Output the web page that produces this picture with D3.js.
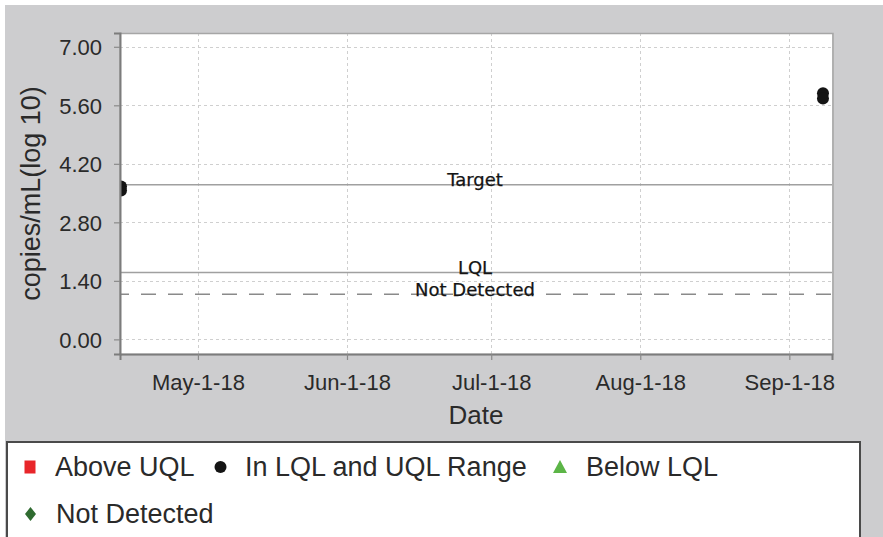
<!DOCTYPE html>
<html>
<head>
<meta charset="utf-8">
<script src="https://cdn.jsdelivr.net/npm/d3@7"></script>
<style>
  html, body { margin: 0; padding: 0; background: #ffffff; }
  svg { display: block; }
</style>
</head>
<body>
<svg id="chart" width="883" height="537"></svg>
<script>
// Sample results (log10 copies/mL) by collection date
const sampleDates  = ["2018-04-15", "2018-04-15", "2018-09-08", "2018-09-08"];
const sampleValues = [3.66, 3.56, 5.89, 5.76];

// Horizontal reference markers
const markerLabels = ["Target", "LQL", "Not Detected"];
const markerValues = [3.70, 1.60, 1.08];

// Axis ticks
const yTickValues = [0.00, 1.40, 2.80, 4.20, 5.60, 7.00];
const xDomain = ["2018-04-14T19:00", "2018-09-09T21:00"];
const yDomain = [-0.35, 7.33];

// Legend entries
const legendLabels = ["Above UQL", "In LQL and UQL Range", "Below LQL", "Not Detected"];

const svg = d3.select("#chart");
const W = 883, H = 537;
const plot = { left: 120, top: 33, right: 832, bottom: 354 };

const parseDay = d3.timeParse("%Y-%m-%d");
const parseStamp = d3.timeParse("%Y-%m-%dT%H:%M");

const x = d3.scaleTime()
  .domain(xDomain.map(parseStamp))
  .range([plot.left, plot.right]);
const y = d3.scaleLinear()
  .domain(yDomain)
  .range([plot.bottom, plot.top]);

// panel background
svg.append("rect").attr("x", 0).attr("y", 0).attr("width", W).attr("height", H).attr("fill", "#ffffff");
svg.append("rect").attr("x", 5).attr("y", 5).attr("width", W - 5).attr("height", H - 5).attr("fill", "#cdcdcf");

// plot area
svg.append("rect")
  .attr("x", plot.left).attr("y", plot.top)
  .attr("width", plot.right - plot.left).attr("height", plot.bottom - plot.top)
  .attr("fill", "#ffffff");

const monthTicks = x.ticks(d3.timeMonth.every(1));

// grid
const grid = svg.append("g").attr("stroke", "#cfcfcf").attr("stroke-width", 1).attr("stroke-dasharray", "3,3");
grid.selectAll("line.h").data(yTickValues).join("line")
  .attr("x1", plot.left).attr("x2", plot.right)
  .attr("y1", d => Math.round(y(d)) + 0.5).attr("y2", d => Math.round(y(d)) + 0.5);
grid.selectAll("line.v").data(monthTicks).join("line")
  .attr("y1", plot.top).attr("y2", plot.bottom)
  .attr("x1", d => Math.round(x(d)) + 0.5).attr("x2", d => Math.round(x(d)) + 0.5);

// reference markers
const markers = svg.append("g");
markerLabels.forEach((label, i) => {
  const yy = y(markerValues[i]);
  const dashed = label === "Not Detected";
  markers.append("line")
    .attr("x1", plot.left).attr("x2", plot.right)
    .attr("y1", yy).attr("y2", yy)
    .attr("stroke", dashed ? "#8a8a8a" : "#a0a0a0")
    .attr("stroke-width", 1.6)
    .attr("stroke-dasharray", dashed ? "15,12" : null)
    .attr("stroke-dashoffset", dashed ? 6 : null);
  markers.append("text")
    .attr("x", (plot.left + plot.right) / 2 - 1)
    .attr("y", yy + 1.5)
    .attr("text-anchor", "middle")
    .attr("font-family", "DejaVu Sans")
    .attr("font-size", 18)
    .attr("fill", "#141414")
    .attr("stroke", "#141414")
    .attr("stroke-width", 0.25)
    .text(label);
});

// data points (clipped to plot area)
svg.append("clipPath").attr("id", "plotClip")
  .append("rect").attr("x", plot.left).attr("y", plot.top)
  .attr("width", plot.right - plot.left).attr("height", plot.bottom - plot.top);
svg.append("g").attr("clip-path", "url(#plotClip)")
  .selectAll("circle").data(sampleDates.map((d, i) => ({ date: parseDay(d), value: sampleValues[i] })))
  .join("circle")
  .attr("cx", d => x(d.date))
  .attr("cy", d => y(d.value))
  .attr("r", 6)
  .attr("fill", "#141414");

// plot frame
svg.append("rect")
  .attr("x", plot.left).attr("y", plot.top + 0.5)
  .attr("width", plot.right - plot.left + 1).attr("height", plot.bottom - plot.top)
  .attr("fill", "none").attr("stroke", "#a6a6a6").attr("stroke-width", 1.5);

// axes
const yAxis = svg.append("g")
  .attr("transform", `translate(${plot.left},0)`)
  .call(d3.axisLeft(y).tickValues(yTickValues).tickFormat(d3.format(".2f")).tickSize(6).tickPadding(12));
const xAxis = svg.append("g")
  .attr("transform", `translate(0,${plot.bottom})`)
  .call(d3.axisBottom(x).tickValues(monthTicks).tickFormat(d3.timeFormat("%b-%-d-%y")).tickSize(6).tickPadding(10));

[yAxis, xAxis].forEach(g => {
  g.select(".domain").attr("stroke", "#7c7c7c").attr("stroke-width", 2);
  g.selectAll(".tick line").attr("stroke", "#8a8a8a").attr("stroke-width", 1.2);
  g.selectAll(".tick text")
    .attr("font-family", "Liberation Sans, Arial, sans-serif")
    .attr("font-size", 22)
    .attr("fill", "#2a2a2a");
});
yAxis.selectAll(".tick text").attr("dy", "0.36em");
xAxis.selectAll(".tick text").attr("dy", "0.9em");

// axis titles
svg.append("text")
  .attr("x", (plot.left + plot.right) / 2)
  .attr("y", 424)
  .attr("text-anchor", "middle")
  .attr("font-family", "Liberation Sans, Arial, sans-serif")
  .attr("font-size", 26)
  .attr("fill", "#2a2a2a")
  .text("Date");
svg.append("text")
  .attr("transform", `translate(40,${(plot.top + plot.bottom) / 2}) rotate(-90)`)
  .attr("text-anchor", "middle")
  .attr("font-family", "Liberation Sans, Arial, sans-serif")
  .attr("font-size", 27)
  .attr("fill", "#2a2a2a")
  .text("copies/mL(log 10)");

// legend
const legend = svg.append("g");
legend.append("rect")
  .attr("x", 7).attr("y", 442)
  .attr("width", 853).attr("height", 120)
  .attr("fill", "#ffffff").attr("stroke", "#4a4a4a").attr("stroke-width", 2);

const legendPos = [
  { sx: 30, tx: 55, y: 467 },
  { sx: 220.5, tx: 245, y: 467 },
  { sx: 560, tx: 586, y: 467 },
  { sx: 30.5, tx: 56, y: 514 }
];
legendLabels.forEach((label, i) => {
  const p = legendPos[i];
  if (i === 0) {
    legend.append("rect").attr("x", p.sx - 5.5).attr("y", p.y - 6.5).attr("width", 11).attr("height", 13).attr("fill", "#e8262a");
  } else if (i === 1) {
    legend.append("circle").attr("cx", p.sx).attr("cy", p.y).attr("r", 6).attr("fill", "#141414");
  } else if (i === 2) {
    legend.append("path").attr("d", `M${p.sx},${p.y - 7}L${p.sx + 7},${p.y + 6}L${p.sx - 7},${p.y + 6}Z`).attr("fill", "#5cb547");
  } else {
    legend.append("path").attr("d", `M${p.sx},${p.y - 7}L${p.sx + 5.5},${p.y}L${p.sx},${p.y + 7}L${p.sx - 5.5},${p.y}Z`).attr("fill", "#2f6b30");
  }
  legend.append("text")
    .attr("x", p.tx).attr("y", p.y + 9)
    .attr("font-family", "Liberation Sans, Arial, sans-serif")
    .attr("font-size", 27)
    .attr("fill", "#2a2a2a")
    .text(label);
});
</script>
</body>
</html>
